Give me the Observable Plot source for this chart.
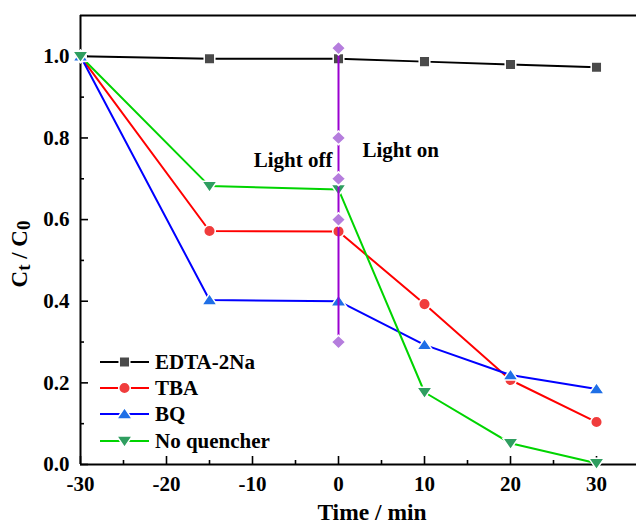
<!DOCTYPE html>
<html>
<head>
<meta charset="utf-8">
<script src="https://cdn.jsdelivr.net/npm/d3@7"></script>
<script src="https://cdn.jsdelivr.net/npm/@observablehq/plot@0.6"></script>
<style>
  html, body { margin: 0; padding: 0; background: white; }
  #chart { width: 636px; height: 524px; }
</style>
</head>
<body>
<div id="chart"></div>
<script>
// ---- data ----
const times = [-30, -15, 0, 10, 20, 30];
const edta = [1.0, 0.994, 0.994, 0.987, 0.980, 0.973];
const tba  = [1.0, 0.572, 0.571, 0.393, 0.207, 0.104];
const bq   = [1.0, 0.403, 0.400, 0.293, 0.219, 0.185];
const noq  = [1.0, 0.682, 0.674, 0.177, 0.052, 0.003];
const seriesNames = ["EDTA-2Na", "TBA", "BQ", "No quencher"];
const switchTime = 0;
const switchMarkers = [1.02, 0.8, 0.7, 0.6, 0.3];
const notes = ["Light off", "Light on"];
const notesY = [0.746, 0.769];
const xTicks = [-30, -20, -10, 0, 10, 20, 30];
const xMinor = [-25, -15, -5, 5, 15, 25];
const yTicks = [0, 0.2, 0.4, 0.6, 0.8, 1.0];
const yMinor = [0.1, 0.3, 0.5, 0.7, 0.9];

// ---- symbols ----
const sq = {draw(c, s){ const r = Math.sqrt(s/Math.PI), h = 0.96*r; c.moveTo(-h,-h); c.lineTo(h,-h); c.lineTo(h,h); c.lineTo(-h,h); c.closePath(); }};
const triUp = {draw(c, s){ const r = Math.sqrt(s/Math.PI); c.moveTo(0,-1.15*r); c.lineTo(1.4*r,0.9*r); c.lineTo(-1.4*r,0.9*r); c.closePath(); }};
const triDown = {draw(c, s){ const r = Math.sqrt(s/Math.PI); c.moveTo(0,1.15*r); c.lineTo(1.4*r,-0.9*r); c.lineTo(-1.4*r,-0.9*r); c.closePath(); }};
const diamond = {draw(c, s){ const r = Math.sqrt(s/Math.PI); c.moveTo(0,-1.25*r); c.lineTo(1.3*r,0); c.lineTo(0,1.25*r); c.lineTo(-1.3*r,0); c.closePath(); }};
const circ = {draw(c, s){ const r = Math.sqrt(s/Math.PI); c.moveTo(r,0); c.arc(0,0,r,0,2*Math.PI); }};

const styles = [
  {values: edta, line: "#000000", fill: "#4a4a4a", symbol: sq, r: 5.5},
  {values: tba,  line: "#ff0000", fill: "#f03c3c", symbol: circ, r: 5.8},
  {values: bq,   line: "#0000ff", fill: "#1f6fe6", symbol: triUp, r: 5.5},
  {values: noq,  line: "#00d400", fill: "#2f9e60", symbol: triDown, r: 5.5}
];
const series = styles.map((s, k) => ({...s, name: seriesNames[k],
  data: times.map((t, i) => ({x: t, y: s.values[i]}))}));

const font = "'Liberation Serif', 'Times New Roman', serif";
const fmtX = d => String(d);
const fmtY = d => d.toFixed(1);
const blank = () => "";

const marks = [
  Plot.ruleY([0, 1.1], {stroke: "black", strokeWidth: 2}),
  Plot.ruleX([-30], {stroke: "black", strokeWidth: 2}),
  Plot.axisX({ticks: xTicks, tickSize: 0, tickPadding: 12, tickFormat: fmtX, fontSize: 21, label: null}),
  Plot.axisX({ticks: xTicks, tickSize: -8, tickFormat: blank, label: null, strokeWidth: 1.6}),
  Plot.axisX({ticks: xMinor, tickSize: -4, tickFormat: blank, label: null, strokeWidth: 1.6}),
  Plot.axisY({ticks: yTicks, tickSize: 0, tickPadding: 11, tickFormat: fmtY, fontSize: 21, label: null}),
  Plot.axisY({ticks: yTicks, tickSize: -8, tickFormat: blank, label: null, strokeWidth: 1.6}),
  Plot.axisY({ticks: yMinor, tickSize: -4, tickFormat: blank, label: null, strokeWidth: 1.6})
];
for (const s of series) {
  marks.push(Plot.line(s.data, {x: "x", y: "y", stroke: s.line, strokeWidth: 2}));
}
for (const s of series) {
  marks.push(Plot.dot(s.data, {x: "x", y: "y", symbol: s.symbol, r: s.r, fill: s.fill, stroke: "white", strokeWidth: 1.5}));
}
marks.push(Plot.ruleX([switchTime], {y1: d3.min(switchMarkers), y2: d3.max(switchMarkers), stroke: "#9a00d0", strokeWidth: 2}));
marks.push(Plot.dot(switchMarkers, {x: () => switchTime, y: d => d, symbol: diamond, r: 5.5, fill: "#b57ddd", stroke: "white", strokeWidth: 1.5}));
marks.push(Plot.text([notes[0]], {x: () => switchTime, y: () => notesY[0], text: d => d, textAnchor: "end", dx: -6, fontSize: 21, fontWeight: "bold", fill: "black"}));
marks.push(Plot.text([notes[1]], {x: () => switchTime, y: () => notesY[1], text: d => d, textAnchor: "start", dx: 24, fontSize: 21, fontWeight: "bold", fill: "black"}));

const chart = Plot.plot({
  width: 636, height: 524,
  marginLeft: 80, marginRight: 0, marginTop: 15, marginBottom: 60,
  style: {fontFamily: font, fontWeight: "bold", fontSize: "21px", color: "black", background: "white", overflow: "visible"},
  x: {domain: [-30, 34.65]},
  y: {domain: [0, 1.1]},
  marks
});

// axis titles and legend
const svg = d3.select(chart);
svg.append("text")
  .attr("x", 372).attr("y", 520)
  .attr("text-anchor", "middle")
  .attr("font-family", font).attr("font-weight", "bold").attr("font-size", 23.5)
  .attr("fill", "black")
  .text("Time / min");
const yl = svg.append("text")
  .attr("transform", "translate(27,254) rotate(-90)")
  .attr("text-anchor", "middle")
  .attr("font-family", font).attr("font-weight", "bold").attr("font-size", 23)
  .attr("fill", "black");
yl.append("tspan").text("C");
yl.append("tspan").attr("font-size", 19).attr("dy", 3).text("t");
yl.append("tspan").attr("dy", -3).text(" / C");
yl.append("tspan").attr("font-size", 19).attr("dy", 3).text("0");

const legend = svg.append("g");
const rowsY = [362, 388, 414, 441];
series.forEach((s, i) => {
  const g = legend.append("g").attr("transform", `translate(0,${rowsY[i]})`);
  g.append("line").attr("x1", 100).attr("x2", 149).attr("y1", 0).attr("y2", 0)
    .attr("stroke", s.line).attr("stroke-width", 2);
  g.append("path").attr("transform", "translate(124.5,0)")
    .attr("d", d3.symbol(s.symbol, Math.PI * s.r * s.r)())
    .attr("fill", s.fill).attr("stroke", "white").attr("stroke-width", 1.5);
  g.append("text").attr("x", 155).attr("y", 0).attr("dy", "0.35em")
    .attr("text-anchor", "start")
    .attr("font-family", font).attr("font-weight", "bold").attr("font-size", 21)
    .attr("fill", "black").text(s.name);
});

document.getElementById("chart").appendChild(chart);
</script>
</body>
</html>
